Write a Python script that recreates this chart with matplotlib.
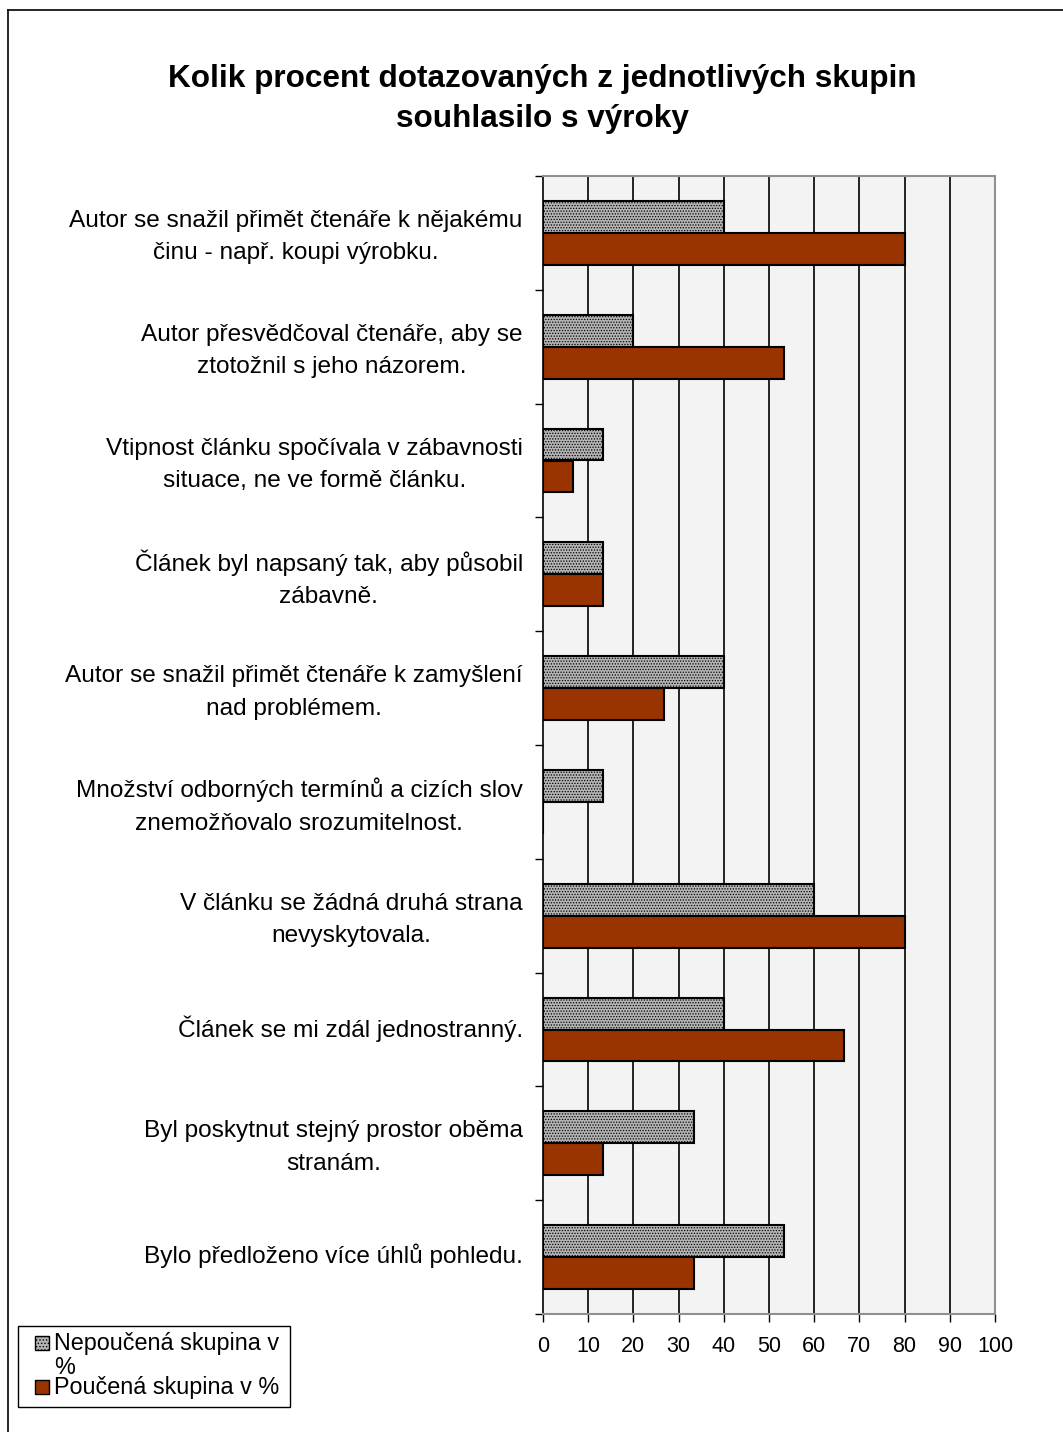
import matplotlib
matplotlib.use("Agg")
import matplotlib.pyplot as plt
from matplotlib.patches import Rectangle
from matplotlib.lines import Line2D
from matplotlib.transforms import ScaledTranslation
import numpy as np

plt.rcParams['font.family'] = ['Liberation Sans', 'DejaVu Sans']
plt.rcParams['hatch.linewidth'] = 0.6

categories = [
    "Autor se snažil přimět čtenáře k nějakému\nčinu - např. koupi výrobku.",
    "Autor přesvědčoval čtenáře, aby se\nztotožnil s jeho názorem.",
    "Vtipnost článku spočívala v zábavnosti\nsituace, ne ve formě článku.",
    "Článek byl napsaný tak, aby působil\nzábavně.",
    "Autor se snažil přimět čtenáře k zamyšlení\nnad problémem.",
    "Množství odborných termínů a cizích slov\nznemožňovalo srozumitelnost.",
    "V článku se žádná druhá strana\nnevyskytovala.",
    "Článek se mi zdál jednostranný.",
    "Byl poskytnut stejný prostor oběma\nstranám.",
    "Bylo předloženo více úhlů pohledu.",
]
nepoucena = [40, 20, 13.3, 13.3, 40, 13.3, 60, 40, 33.3, 53.3]
poucena = [80, 53.3, 6.7, 13.3, 26.7, 0, 80, 66.7, 13.3, 33.3]
xticks = [0, 10, 20, 30, 40, 50, 60, 70, 80, 90, 100]
title = "Kolik procent dotazovaných z jednotlivých skupin\nsouhlasilo s výroky"
legend_line1 = "Nepoučená skupina v"
legend_line1b = "%"
legend_line2 = "Poučená skupina v %"

W, H = 1063, 1432
fig = plt.figure(figsize=(W / 100, H / 100), dpi=100)
fig.patch.set_facecolor('white')

ax = fig.add_axes([543 / W, 1 - 1314 / H, (995 - 543) / W, (1314 - 176) / H])
ax.set_facecolor('#f3f3f3')

y = np.arange(len(categories))
h = 0.28
ax.barh(y - h / 2, nepoucena, height=h, color='#b4b4b4', edgecolor='black',
        linewidth=1.5, hatch='......', zorder=3)
ax.barh(y + h / 2, poucena, height=h, color='#993300', edgecolor='black',
        linewidth=1.5, zorder=3)

ax.set_xlim(0, 100)
ax.set_ylim(len(categories) - 0.5, -0.5)
ax.set_xticks(xticks)
ax.set_xticklabels([str(t) for t in xticks], fontsize=15.5)
ax.tick_params(axis='x', direction='out', length=6, width=1, pad=10, colors='black')

ax.set_yticks(y)
ax.set_yticklabels(categories, fontsize=17.6, multialignment='center', linespacing=1.62)
ax.tick_params(axis='y', which='major', length=0, pad=14.5)
ax.set_yticks(np.arange(len(categories) + 1) - 0.5, minor=True)
ax.tick_params(axis='y', which='minor', direction='out', length=6, width=1)
shift = ScaledTranslation(0, 3.5 / 100, fig.dpi_scale_trans)
for lab in ax.get_yticklabels():
    lab.set_transform(lab.get_transform() + shift)

for t in xticks[1:-1]:
    ax.axvline(t, color='black', linewidth=1.2, zorder=1)

for s in ['top', 'right']:
    ax.spines[s].set_color('#909090')
    ax.spines[s].set_linewidth(1.5)
ax.spines['left'].set_color('black')
ax.spines['left'].set_linewidth(1.2)
ax.spines['bottom'].set_color('#909090')
ax.spines['bottom'].set_linewidth(1.5)

fig.text(542 / W, 1 - 99 / H, title, ha='center', va='center', fontsize=22.7,
         fontweight='bold', linespacing=1.4)

# outer frame
fig.add_artist(Line2D([8 / W, 8 / W], [0, 1 - 10 / H], color='black', linewidth=1.2,
                      transform=fig.transFigure))
fig.add_artist(Line2D([8 / W, 1], [1 - 10 / H, 1 - 10 / H], color='black', linewidth=1.2,
                      transform=fig.transFigure))

# legend box
fig.add_artist(Rectangle((18 / W, 1 - 1407 / H), (290 - 18) / W, (1407 - 1326) / H,
                         transform=fig.transFigure, facecolor='white', edgecolor='black',
                         linewidth=1))
fig.add_artist(Rectangle((35 / W, 1 - 1350 / H), 14 / W, 14 / H, transform=fig.transFigure,
                         facecolor='#b4b4b4', edgecolor='black', linewidth=1, hatch='.....'))
fig.add_artist(Rectangle((35 / W, 1 - 1394 / H), 14 / W, 14 / H, transform=fig.transFigure,
                         facecolor='#993300', edgecolor='black', linewidth=1))
fig.text(54 / W, 1 - 1350 / H, legend_line1, ha='left', va='baseline', fontsize=16.8)
fig.text(54 / W, 1 - 1374 / H, legend_line1b, ha='left', va='baseline', fontsize=16.8)
fig.text(54 / W, 1 - 1394 / H, legend_line2, ha='left', va='baseline', fontsize=16.8)

fig.savefig('out.png', dpi=100, facecolor='white')
